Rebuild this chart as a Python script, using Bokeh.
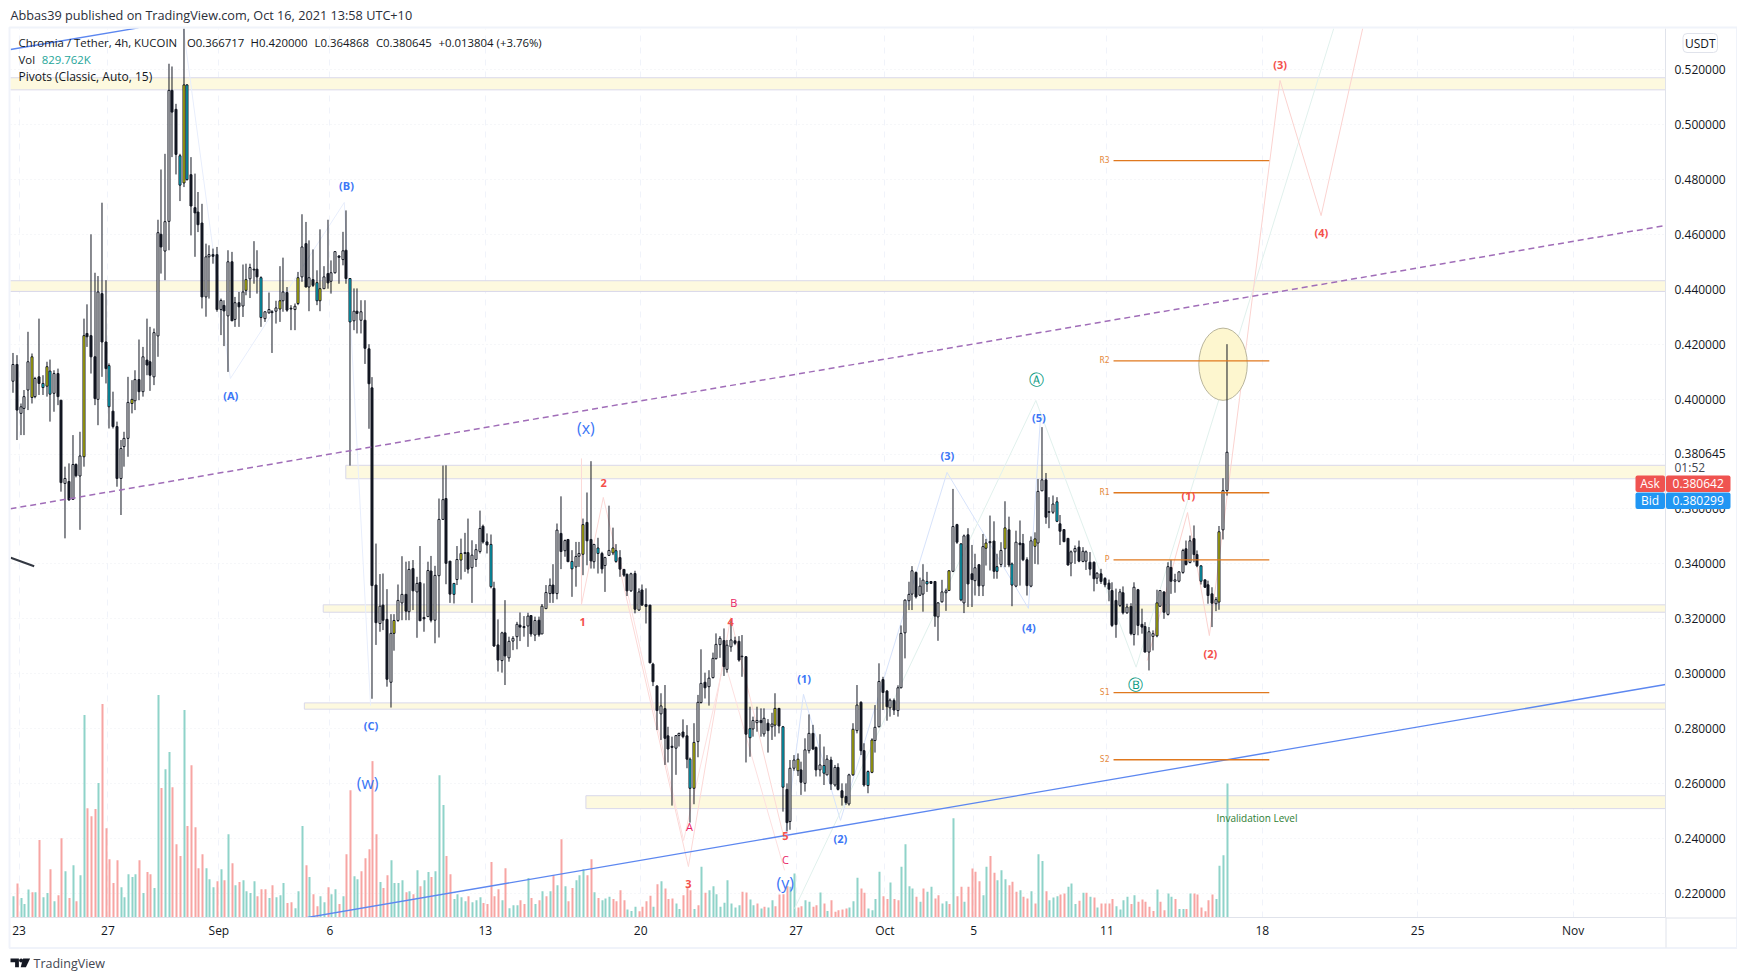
from bokeh.embed import file_html
from bokeh.resources import INLINE
from bokeh.plotting import figure
from bokeh.models import Range1d, LinearAxis, FixedTicker, Grid, NumeralTickFormatter
from bokeh.core.properties import value

# ---- candles, in milli-USDT (0.001 USDT) ----
highs = [
416.8,416,398.4,403.3,424.5,416.6,408.1,429.3,408.7,413.6,
414.4,410.5,411.1,399.6,375.4,376.6,386.9,376.6,388.1,429.3,
434.5,460,446,444.8,471.5,443.3,413,402.7,391.8,385.1,
388.1,408.1,406.9,410.5,421.7,419,429.3,426.3,425.7,465.3,
483.6,489.3,522.1,521.1,507.5,489.3,535,514.6,488.1,482.1,
475.4,471.1,456.6,456,454.8,455.4,436.6,436,454.2,453.6,
437.2,439,449,449.3,449.3,457.5,454.2,444.7,431.8,438.8,
432.4,435.8,448.4,451.5,440.8,434.2,434.8,446.3,467.3,464.5,
457.8,454.5,446.9,461.8,448.4,465.3,450.5,453.6,452.4,
460.9,468.7,443.9,440.3,440.3,436,436,420,408,347.4,
336.3,336.5,330.8,321.7,321.7,332.5,342.8,340.8,341,341.4,
335.3,346.5,332.9,340.8,342.9,339.3,363.8,375.8,375.9,340.8,
332.9,346.5,349.2,351.3,356.5,348.6,347.2,359.4,354.3,351.1,
350.7,333.5,319.8,315.3,326.8,313.5,313.7,318.9,322.3,321,
322.2,321.4,320.8,320.8,325.4,332.3,334.7,339.9,354.7,364.6,
348.9,348.9,345,348,348,356.5,366,377.4,347.2,349.5,
344.4,342.6,361.2,353.2,347.2,345,338,336.5,336.8,337.5,
331.1,332.5,331.1,325,304,295.9,292.9,
295.9,280.7,277.1,277.7,278.5,283.4,281.3,269.5,282,292.3,
308.9,300.4,301.3,307.7,314.7,313.7,316.5,312.3,319.5,313.5,
313.7,314.1,306.4,288,284.4,288,287.4,287.4,283.5,285.8,
292.9,287.5,281,260.1,268.6,270.4,271,268,276.5,285.2,
281.4,273.5,278,273.5,270.4,269.8,266.8,267.4,260.1,260.1,
263.6,282,295.9,290,274.7,264.8,276.5,288.6,303.8,298.9,
294.1,291,291,295.8,317.6,327.1,333.5,339.2,337.2,335,
339.9,337.1,333.7,333.7,326.1,334.2,331,337.7,
367.3,354.6,347.5,350.7,353,346.9,343.7,339.9,350.9,349.1,
357.6,355.5,343.7,347.9,362.8,357.2,340.5,352.1,355.8,350.9,
342.4,350,351.5,370.9,389.8,373.1,364.3,364.9,364.3,357.8,
352.5,349.4,344.9,346.7,348.5,346.1,344.9,344.3,340.9,337,
338.2,335.2,334.3,333.3,331,330.9,331.8,325.5,325.7,333.3,
330.9,323.7,318.8,317,315.8,330.6,330.3,329.9,340.6,341.5,
336.4,337.3,345.5,348.5,350.3,354,344.9,339.4,334.2,333.9,
331.5,327.9,353.8,371.2,420]

body_top = [
412.6,412.6,397.2,400.9,413.6,415.4,407.5,408.1,405.7,411.8,
410.2,409.3,409.3,399.6,371.1,370,376.2,376.2,379.3,423.1,
423.9,423.1,415.4,439,438.4,420.8,412.2,395.6,390,382,
385.7,398.8,399.9,407.1,407.1,415.4,414.2,413.6,424.2,460.6,
460,464.6,512.4,512.4,505.5,488.6,514.4,514.4,481.7,469.7,
468.1,464.1,451.8,452.6,452.6,452.6,435.9,434.1,450,450,
435.1,435.1,439,443.5,447.9,447.3,447.3,444.2,431.8,432.6,
431.8,433.2,435.8,439,438.8,433.1,433.8,444.2,455.4,456.6,
444.2,443.5,442.4,440.2,444.5,445.7,446,453.7,452.1,
454,454.2,443.9,432,432,431.8,428.7,418.3,404.1,332.3,
324.6,325,319.8,314.7,319.4,326.7,328.9,328.9,338,338.3,
332.9,333.2,320.5,337.6,337.4,335.8,356.2,363.4,363.8,341,
332.9,341.6,343.8,344.1,344.1,343.2,345.2,352.9,353.7,348,
347.1,331.1,310.5,314.9,314.9,311.8,312.9,318,317.7,317.2,
321,321.2,319.4,319.5,324.6,329.6,332.2,332.3,352.3,351.1,
348.5,348.9,340.9,342.7,343.8,354.3,355.1,348.9,347.1,345.8,
343.8,342.3,344.9,345.8,344.8,342.3,338,336.2,336.4,336.5,
329.8,330.5,325.2,325,303.5,295.5,288.3,
287.3,277.4,273.6,277.5,278.3,278.8,277.4,268.9,275,289.6,
296.5,296.9,298.4,305.6,310.7,312.9,312.1,310.4,312.3,312,
311.8,306.4,306.2,280,283,283,283,283.8,282,281.7,
287.4,287.4,280.7,257.9,265.6,268.6,268.9,265,272.3,278.3,
278.3,273.2,266.8,266.6,268.9,268.6,265.9,265.9,257.4,255.3,
263.2,279.8,288.6,289.6,272,264.4,275.9,280.5,297.2,297.9,
293.7,290.4,290.3,294.9,314.7,326.8,328.9,337.5,336.9,331.9,
334.1,333.6,333.6,333.6,325.8,329.8,330.2,337.5,
353.6,354.3,347.3,350.2,350.6,336.4,338.6,339.7,346.3,347.6,
348.1,348.3,339,344.9,353.1,352.4,340,347.9,347.6,347.4,
341.5,348.4,349.1,366.4,370.6,370.6,359,361.8,362.6,354.6,
352.5,349.3,344.4,345.6,346.1,344.6,344.4,340.6,340.6,336.6,
336.4,334.7,333,330.3,326.7,329.8,329.5,324.3,324.5,331.5,
330.6,318,317.2,315.3,314.6,325.8,330.3,329.8,339,338.7,
334.2,337.1,344.9,345.5,348.4,349.2,343.4,339.3,334.2,332.4,
329.1,327,351.7,366.7,380.645]

body_bottom = [
406.5,396,394.8,396.6,403.3,400.6,400.9,405.7,404.2,404.7,
401.8,402.1,400.9,369.6,369.3,363.3,363.5,372.1,372,379,
422.7,415.4,400.2,399.9,420.8,411.1,397.2,390,371.1,371.1,
382.7,385.7,398.4,399.4,402.7,402.7,412.4,408.7,408.1,423,
455.4,453.9,464.7,504.5,489.1,477.9,478.7,479.9,470.3,467.8,
463.5,437.2,437.2,451.8,452,432.6,432.6,432.1,430.3,428.5,
429,433.6,433.9,439.6,443.8,447,444.5,429.7,429.3,431.4,
431.5,432,432.8,435.8,432.4,432.8,432.6,434.8,444.5,440.8,
440.8,441.4,435.8,435.8,440.2,442.3,442.9,446,451.6,
450.8,443.9,428.1,428.5,431.2,428.7,418.5,405.6,332.1,318.6,
318.3,319.5,298,296.9,314.7,319.4,325.8,322.8,322.6,330.2,
329.8,319.3,320,320.8,319.5,319.5,335.7,356.2,340.2,329,
328.9,334.3,341.4,343.8,338.1,338.6,341.6,344.5,348,346.9,
331.7,310.1,305,304.8,306.5,305.8,311.9,313.5,317,316.8,
317.4,314.5,314.1,314.2,314.5,323.7,329.2,329.2,329.2,344.5,
344.8,340.8,338.2,338.9,342.8,343.5,348.4,341.1,340.8,343.8,
338.2,339.4,343.1,344,340.9,338.1,335.9,330.2,330.2,323.5,
323.2,325,324.5,304,297.1,286.6,285.4,
276.5,272.6,273.2,272.9,277.5,277.1,268.9,258.3,258.3,275.3,
289.5,294.9,295.3,298.6,305.5,310.6,302.6,301.6,309.8,311.1,
305,306.2,278,276.7,279.9,282.2,282.2,278.1,279.3,280.7,
281.3,281,258.7,245.8,246.2,265.6,264.7,260.5,260.1,272,
272.6,265,265,263.8,263.2,259.9,259.5,257.9,254.9,253.1,
252.6,263.2,279.3,272,259.5,259.3,264.1,275.7,280.7,293.2,
288,287.6,286.8,286.6,294.9,314.9,326.6,329,328,328.6,
329,332.7,332.9,321,320.7,326.2,329.5,330.3,
337.3,347.9,326.9,325.8,332.7,334.3,333.9,332,332,345.7,
347.7,337.3,337.3,339.8,345.5,339.6,332.3,331.9,347,341.5,
332.1,331.9,346.4,347.6,366.6,357,358.8,358.8,355.5,351.9,
348.1,339.6,340.3,344.4,341,340.9,341,338.1,334.6,334.8,
333.6,332.4,330.8,317.6,317.9,324.9,322.2,322.2,314.6,314.3,
317.6,317,307.9,307.9,313.6,313.8,324.6,322.4,321.6,333.7,
333.7,333.7,336.9,339.8,340.5,343.4,339.3,333.7,331.5,328.5,
325.7,325.5,326.1,352.4,366.717]

lows = [
402.3,385.1,386.9,386.9,396,398.4,400.3,401.5,401.5,400.9,
391.8,395.4,397.8,366.3,349.3,363,363.5,371.5,352.4,375.4,
419,409.3,397.8,390.5,408.1,405.7,389.3,389.3,368.1,357.8,
375.4,379,394.8,396,399.6,400.9,408.7,403,405.1,415.4,
445.7,443.3,454.2,488.1,481.8,472.1,477.2,479.6,459.6,451.8,
460.8,433,430,436.6,449.3,431.8,423.3,419.3,409.9,428.5,
426.3,426.3,429.9,437.8,436.8,442,438.4,426.3,428.1,431.1,
416.8,427.5,428.1,431.8,431.8,425.1,425.1,434.2,442.7,440.8,
432,440.8,434.2,432,440.2,440.2,438.4,445.7,442,
448.7,442,375.8,425.1,423.9,423.9,412.8,389.2,290.9,310.5,
315.3,315.9,295.3,287.7,308.4,318.9,319.5,319.5,319.5,323.2,
313.1,319.3,315.3,320.8,318.7,311.1,313.2,356.2,332.6,325.8,
325.6,332.3,334.3,337.1,336.5,325.8,338.9,343.8,347.4,343.8,
331.1,309.8,300.8,300.4,295.9,304.4,308.6,308.9,311.9,313.5,
309.8,313.5,311.9,313.5,314.5,323.7,325.8,325.8,327.1,338.1,
342.6,340.8,328,331.7,338.9,335.9,339.5,338.3,338.3,336.5,
336.5,329.8,342.9,343.2,340.4,335.3,335.3,328.3,329.8,322,
322.9,324.8,318.3,303.8,295.5,279.5,275.9,
266.8,267.7,252,263.2,273.5,276.5,265.6,245.8,252.5,269.6,
289.2,291,288.4,298.3,305.2,305.8,299.2,300.4,308,310.4,
304.4,298.9,267.7,269.8,277.1,278.9,277.1,277.1,271.3,275.9,
277.1,278.3,249.8,242.6,243.2,264.7,262.8,255.9,257.1,271,
272.2,262.6,262.6,259.5,263,257.7,258.9,257.5,252,252.3,
252,262.8,278.3,270.4,258.9,256.5,263.8,271.3,280.5,286.8,
282.9,284.4,285,284.4,294.7,305.6,323.2,323.2,327.4,328.3,
322.6,329.8,332.9,317.1,312,325.9,322.9,330.2,
337,347.3,326.4,322.1,324.3,324.3,328.5,328.3,328.3,339.4,
337.6,334.6,334.6,338.8,338.8,338.8,324.6,331.5,332.1,341,
328.5,331.5,340,339.8,366.7,354.6,353,358.2,355.2,346.9,
347.9,339.4,335.5,340,340.6,340.6,337.8,335.8,330,332.7,
332.7,331.5,326.4,317,313.1,324.3,321.6,321.8,314,310.3,
314,314.6,307.9,301.2,308.5,313.3,324.3,320,321.2,329.1,
329.5,333.3,336.4,339.4,340.2,340.6,338.8,332.5,331.3,325.5,
317,322.8,323.3,348.9,364.868]

# w = rising, d = falling, y = marked rising (yellow), c = marked falling (cyan)
candle_kinds = (
"wdwwwywdcy" "cwddwdwdwy" "dddwddcddw" "wwywdwddww" "dwwddcycdd"
"ddwwddwdwd" "wdwywddcww" "dwywddwywd" "wdcywdwwd" "wdcwdwdddd"
"wddwywwdwd" "wddwdwwwdd" "cwyddwwwdd" "cddwdwwwdd" "wdwdwwwdwd"
"wdcwwyddwc" "dwwycdddwd" "wdddddw" "dddwwddcyw" "wdwwwwdwwd"
"dddcwwdwdw" "ydcdwwydww" "ddwcwdwddd" "wywddcywwd" "dwdwwwwwdw"
"wcddwwwy" "wdcwddwdwy" "ddcwydcwdd" "dwywwddwcd" "ddwwdwwddw"
"dddddwdwdw" "dddwwywdwd" "wwwdwddcdd" "dwyww")

# ---- volume, in thousands ----
volumes = [
132,210,120,83,173,157,157,479,126,151,
299,101,138,491,287,120,324,101,262,1253,
677,627,671,832,1321,553,361,213,355,188,
126,268,250,268,355,151,281,268,182,1377,
801,918,1024,807,454,380,1284,566,943,559,
305,392,305,237,188,225,299,231,516,336,
200,219,231,163,151,225,132,175,175,120,
200,126,138,213,89,95,58,163,566,324,
250,144,70,132,95,188,144,175,83,132,
392,788,256,237,287,367,423,968,516,219,
182,262,355,213,213,231,157,163,144,293,
194,231,281,250,287,881,696,380,268,114,
144,126,101,132,95,107,126,89,83,343,
132,175,107,305,58,76,76,107,83,244,
120,83,107,163,132,163,262,200,485,194,
101,182,231,262,299,262,361,157,120,107,
118,128,114,101,169,107,50,41,66,39,
66,101,134,66,206,225,180,114,118,87,
52,138,190,169,52,76,314,153,169,194,
144,66,91,231,87,62,76,159,155,111,
76,87,56,66,62,107,70,142,144,194,
190,272,62,70,107,97,66,76,155,87,
41,107,35,45,50,56,62,101,246,180,
153,56,45,114,283,132,114,217,114,107,
314,454,194,180,128,97,180,159,190,118,
138,87,101,83,615,132,190,97,190,303,
283,225,138,314,380,277,231,293,237,200,
221,159,169,128,118,163,87,392,349,163,
107,124,132,142,149,190,211,83,103,153,
153,128,124,62,87,87,87,114,70,50,
107,128,83,138,97,111,97,66,41,173,
97,45,149,128,114,52,52,52,149,149,
142,62,39,107,142,114,320,386,829.762]

# g = rising volume bar, r = falling volume bar
volume_kinds = (
"grgggrgrgg" "rgrrgrgrgg" "rrrgrrrrrg" "ggggrgrrgg" "rggrrrgrrr"
"rrgggrgrgr" "grggggrrrg" "rgggrrgggr" "grrggrggrg" "rrggrrrrrg"
"rrggggrgrg" "rggrgggrrg" "gggrgggrrr" "rrgrgggrrg" "rgrgrgrgrg"
"rrgggrrgrg" "ggrrrrgggr" "rrrgrgrrrg" "grrrgrgrgg" "gggggggrrg"
"grgrggrrrr" "ggrrggrrgr" "grrrrrgggr" "rggggrrgrr" "ggggrgrggr"
"rggrgrrgrr" "rrggrrgggr" "rrgrrgrggr" "gggrrgggrg" "rgrgrrrrgg"
"ggrgrrrrrg" "rrggrggrgr" "rrrrrgggg")

# ---- axes ----
price_ticks = [0.22,0.24,0.26,0.28,0.30,0.32,0.34,0.36,0.38,0.40,0.42,0.44,0.46,0.48,0.50,0.52]
tick_days = [0,4,9,14,21,28,35,39,43,49,56,63,70]
tick_names = ["23","27","Sep","6","13","20","27","Oct","5","11","18","25","Nov"]

# ---- horizontal zones (milli-USDT, start bar) ----
zone_start = [-1, -1, 90, 83.9, 78.8, 154.9]
zone_top = [517, 443.1, 375.9, 325.1, 289.4, 255.6]
zone_bottom = [512.6, 439.2, 371, 322.4, 287.1, 250.9]

# ---- pivots ----
pivot_names = ["R3","R2","R1","P","S1","S2"]
pivot_levels = [486.8,413.9,365.9,341.5,293.1,268.7]
pivot_from, pivot_to = 297.5, 339.6

# ---- wave paths (bar, milli-USDT) ----
abc_bars = [46.1,58.8,89.6,96.7]
abc_vals = [534.9,407.5,471.6,288.4]
red_bars = [153.7,153.7,159.6,182.6,194,208.6]
red_vals = [378.4,325.2,364.2,229.8,320.5,239.3]
pink_bars = [164.2,181.3,192.3,208.6]
pink_vals = [341.2,239.3,304.8,228.4]
blue_bars = [208.6,213.7,223.7,252.5,274.5,277.7]
blue_vals = [239.3,292.5,246.6,373.3,323.8,392.2]
green_bars = [211.3,276.5,303.6,357.1]
green_vals = [214.5,399.5,302.4,535.3]
proj_bars = [306.6,317.5,323.4,342.5,353.6,364.9]
proj_vals = [304.8,358.7,313.9,516,466.8,535.3]

# ---- wave labels ----
blue_text = ["(A)","(B)","(C)","(1)","(2)","(3)","(4)","(5)"]
blue_text_bars = [58.9,90.2,96.8,213.9,223.7,252.6,274.6,277.3]
blue_text_vals = [401.3,477.8,281,298.3,240,379.5,317,393.2]
big_text = ["(w)","(x)","(y)"]
big_text_bars = [95.9,154.9,208.8]
big_text_vals = [260.4,389.5,223.8]
red_text = ["1","2","3","4","5","(1)","(2)","(3)","(4)"]
red_text_bars = [154,159.7,182.6,194,208.8,317.7,323.7,342.5,353.7]
red_text_vals = [319,369.6,223.4,319,241.1,364.8,307.4,522,460.8]
pink_text = ["A","B","C"]
pink_text_bars = [182.9,194.9,208.8]
pink_text_vals = [244.4,326,232.4]
teal_text = ["\u24b6","\u24b7"]
teal_text_bars = [276.7,303.4]
teal_text_vals = [407,295.9]

FONT = "Open Sans"
DARK = "#131722"
X0, X1 = -0.62, 446.68
Y0, Y1 = 0.21126, 0.53493
PX = 3.7

def X(px):
    return (px - 12.3) / PX

def Y(py):
    return 0.52 - (py - 69) / 2746.7

def milli(v):
    return [a / 1000 for a in v]

p = figure(width=1737, height=972, x_range=Range1d(X0, X1), y_range=Range1d(Y0, Y1),
           x_axis_type=None, y_axis_type=None, toolbar_location=None, output_backend="svg",
           min_border_left=10, min_border_right=72, min_border_top=28, min_border_bottom=55,
           outline_line_color=None, background_fill_color="white", border_fill_color="white")
p.extra_y_ranges = {"vol": Range1d(0, 5503)}

n = len(volumes)
bars = list(range(n))
# bars sit on whole screen pixels, as in a trading terminal, so wicks stay crisp
snapped = [(round(12.3 + PX * i) + 0.5 - 12.3) / PX for i in bars]
snapped_vol = [s + 0.5 / PX for s in snapped]
tick_bars = [1.7 + 6 * d for d in tick_days]

xaxis = LinearAxis(ticker=FixedTicker(ticks=tick_bars),
                   major_label_overrides=dict(zip(tick_bars, tick_names)),
                   axis_line_color="#e0e3eb", major_tick_line_color=None, minor_tick_line_color=None,
                   major_tick_out=0, major_tick_in=0,
                   major_label_text_font=FONT, major_label_text_font_size="12px",
                   major_label_text_color=DARK, major_label_standoff=4)
p.add_layout(xaxis, "below")
yaxis = LinearAxis(ticker=FixedTicker(ticks=price_ticks),
                   formatter=NumeralTickFormatter(format="0.000000"),
                   major_label_overrides={0.38: ""},
                   axis_line_color="#e0e3eb", major_tick_line_color=None, minor_tick_line_color=None,
                   major_tick_out=0, major_tick_in=0,
                   major_label_text_font=FONT, major_label_text_font_size="12px",
                   major_label_text_color=DARK, major_label_standoff=9)
p.add_layout(yaxis, "right")
p.add_layout(Grid(dimension=0, ticker=xaxis.ticker, grid_line_color="#f0f3fa", grid_line_dash="6 6"))
p.add_layout(Grid(dimension=1, ticker=yaxis.ticker, grid_line_color="#eceef3", grid_line_dash="1 3"))

# zones
p.quad(left=zone_start, right=[X1 + 1] * len(zone_start), top=milli(zone_top), bottom=milli(zone_bottom),
       fill_color="#fdf9df", line_color="#d9d8ea", line_width=1)

# volume
vcol = {"g": "#8fd3c9", "r": "#f7a5a3"}
p.vbar(x=snapped_vol, top=volumes, bottom=0, width=2 / PX, y_range_name="vol",
       fill_color=[vcol[k] for k in volume_kinds], line_color=None)

# wave paths
for xs, ys, col in [(abc_bars, abc_vals, "#e8eefc"), (red_bars, red_vals, "#fcd9d7"),
                    (pink_bars, pink_vals, "#fde0e0"), (blue_bars, blue_vals, "#d7e3fb"),
                    (green_bars, green_vals, "#e1f1ed"), (proj_bars, proj_vals, "#fbd3d0")]:
    p.line(xs, milli(ys), line_color=col, line_width=1)

# ellipse
p.ellipse(x=[327.1], y=[0.4127], width=13.1, height=0.0263, fill_color="#fdf6cf",
          line_color="#b9b59c", line_width=1)

# candles
body_col = {"w": "#ffffff", "d": DARK, "y": "#ffff00", "c": "#00e5ff"}
p.segment(x0=snapped, x1=snapped, y0=milli(highs), y1=milli(lows), line_color=DARK, line_width=1)
p.vbar(x=snapped, top=milli(body_top), bottom=milli(body_bottom), width=2 / PX,
       fill_color=[body_col[k] for k in candle_kinds], line_color=DARK, line_width=1)

# trend lines
p.line([X(10), X(1665)], [Y(508.3), Y(225)], line_color="#a06db8", line_width=1.5, line_dash="6 4")
p.line([X(307), X(1665)], [Y(917), Y(684)], line_color="#5c87f0", line_width=1.3)
p.line([X(10), X(138)], [Y(49), Y(27.3)], line_color="#5c87f0", line_width=1.3)
p.line([X(10.3), X(33.7)], [Y(557.3), Y(565.7)], line_color="#333842", line_width=2)

# pivots
pv = milli(pivot_levels)
p.segment(x0=[pivot_from] * 6, x1=[pivot_to] * 6, y0=pv, y1=pv, line_color="#e0781e", line_width=1.3)
p.text(x=[pivot_from - 1.1] * 6, y=pv, text=pivot_names, text_font=value("DejaVu Sans Mono"),
       text_font_size="8px", text_color="#e68a3c", text_align="right", text_baseline="middle")

# wave labels
for xs, ys, ts, col, size, weight in [
        (blue_text_bars, blue_text_vals, blue_text, "#3b76f6", "11px", "bold"),
        (big_text_bars, big_text_vals, big_text, "#3b76f6", "16px", "normal"),
        (red_text_bars, red_text_vals, red_text, "#f4504b", "11px", "bold"),
        (pink_text_bars, pink_text_vals, pink_text, "#e91e63", "11px", "normal"),
        (teal_text_bars, teal_text_vals, teal_text, "#089981", "15px", "normal")]:
    font = "DejaVu Sans" if ts is teal_text else FONT
    p.text(x=xs, y=milli(ys), text=ts, text_font=value(font), text_font_size=size, text_color=col,
           text_font_style=weight, text_align="center", text_baseline="middle")

p.text(x=[X(1256.5)], y=[Y(818)], text=["Invalidation Level"], text_font=value(FONT), text_font_size="10px",
       text_color="#2e7d32", text_align="center", text_baseline="middle")

# ---- terminal furniture outside the plotting frame, on a transparent sheet in page pixels ----
ov = figure(width=1737, height=972, x_range=Range1d(0, 1737), y_range=Range1d(972, 0),
            x_axis_type=None, y_axis_type=None, toolbar_location=None, output_backend="svg",
            min_border=0, min_border_left=0, min_border_right=0, min_border_top=0, min_border_bottom=0,
            outline_line_color=None, background_fill_color=None, border_fill_color=None)
ov.xgrid.visible = False
ov.ygrid.visible = False
ov.styles = {"position": "absolute", "left": "0px", "top": "0px"}

def label(px, py, text, color=DARK, size="11.4px", align="left"):
    ov.text(x=[px], y=[py], text=[text], text_font=value(FONT), text_font_size=size, text_color=color,
            text_align=align, text_baseline="middle")

def box(left, right, top, bottom, fill=None, line=None, lw=1, radius=0):
    ov.quad(left=[left], right=[right], top=[top], bottom=[bottom], fill_color=fill, line_color=line,
            line_width=lw, border_radius=radius)

# pane border, price-axis divider
box(9, 1736.5, 27, 947.5, line="#f0f3fa", lw=2)
ov.segment(x0=[1665.5, 1665.5], y0=[917, 917.5], x1=[1665.5, 1736], y1=[947, 917.5], line_color="#e0e3eb", line_width=1)

# header and legend
label(10, 14.7, "Abbas39 published on TradingView.com, Oct 16, 2021 13:58 UTC+10", color="#2a2e39", size="12.7px")
label(18, 41.7, "Chromia / Tether, 4h, KUCOIN")
label(186.4, 41.7, "O0.366717")
label(250, 41.7, "H0.420000")
label(314, 41.7, "L0.364868")
label(375.4, 41.7, "C0.380645")
label(438, 41.7, "+0.013804 (+3.76%)")
label(18, 58.7, "Vol")
label(41.3, 58.7, "829.762K", color="#26a69a")
label(18, 75.7, "Pivots (Classic, Auto, 15)", size="12px")

# USDT button
box(1682.5, 1717, 33, 52, fill="#ffffff", line="#e0e3eb", radius=4)
label(1699.7, 42.5, "USDT", size="12px", align="center")

# last price and tags
label(1674, 452.5, "0.380645", size="12px")
label(1674, 466.7, "01:52", size="12px", color="#434651")
box(1635, 1664.5, 475, 491.5, fill="#ef5350", radius=2)
box(1665.5, 1730, 475, 491.5, fill="#ef5350", radius=2)
box(1635, 1664.5, 492, 508.5, fill="#2196f3", radius=2)
box(1665.5, 1730, 492, 508.5, fill="#2196f3", radius=2)
label(1649.5, 483.3, "Ask", color="#ffffff", size="12px", align="center")
label(1697.7, 483.3, "0.380642", color="#ffffff", size="12px", align="center")
label(1649.5, 500.3, "Bid", color="#ffffff", size="12px", align="center")
label(1697.7, 500.3, "0.380299", color="#ffffff", size="12px", align="center")

# footer logo and wordmark
ov.patches(xs=[[10, 18.4, 18.4, 14.6, 14.6, 10], [22.6, 29.6, 25.4, 20.2]],
           ys=[[958, 958, 966.8, 966.8, 961.8, 961.8], [958, 958, 966.8, 966.8]],
           fill_color=DARK, line_color=None)
ov.scatter(x=[20.6], y=[960], size=4, marker="circle", fill_color=DARK, line_color=None)
label(33, 962.7, "TradingView", color="#434651", size="12.5px")

open("out.html", "w").write(file_html([p, ov], INLINE))
